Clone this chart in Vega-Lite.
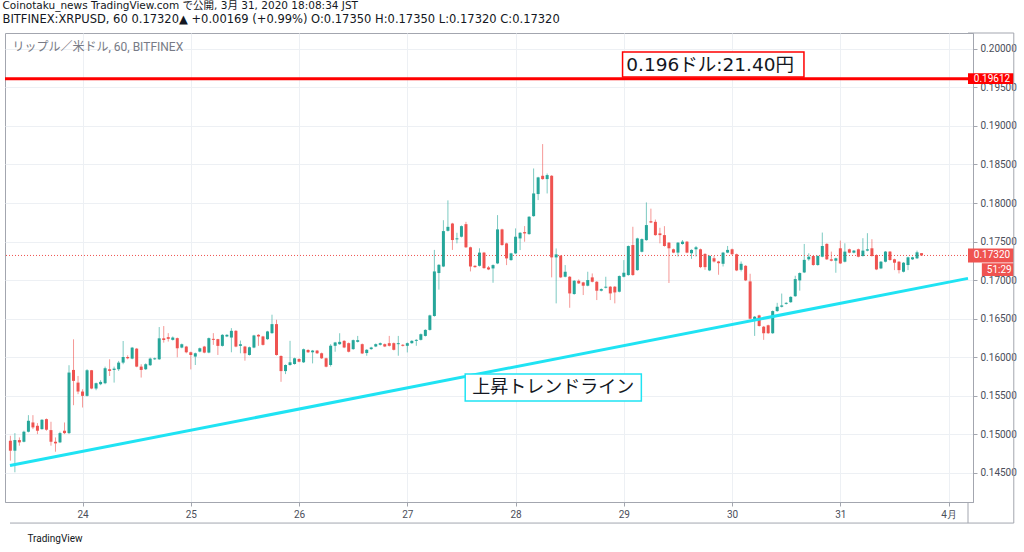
{
  "$schema": "https://vega.github.io/schema/vega-lite/v6.json",
  "width": 968,
  "height": 469,
  "autosize": {"type": "none"},
  "padding": {"left": 5, "top": 33, "right": 51, "bottom": 50},
  "background": "white",
  "title": {
    "text": "Coinotaku_news TradingView.com で公開, 3月 31, 2020 18:08:34 JST",
    "subtitle": "BITFINEX:XRPUSD, 60 0.17320▲ +0.00169 (+0.99%) O:0.17350 H:0.17350 L:0.17320 C:0.17320",
    "anchor": "start",
    "frame": "bounds",
    "offset": 7.5,
    "font": "DejaVu Sans, Noto Sans CJK JP",
    "fontSize": 10.5,
    "fontWeight": "normal",
    "color": "#131722",
    "subtitleFont": "DejaVu Sans, Noto Sans CJK JP",
    "subtitleFontSize": 11.5,
    "subtitleColor": "#131722",
    "subtitlePadding": 2,
    "dx": -1
  },
  "datasets": {
    "candles": [
      {"t":"2020-03-23T08:00Z","o":0.14918,"h":0.14983,"l":0.14660,"c":0.14789},
      {"t":"2020-03-23T09:00Z","o":0.14789,"h":0.15017,"l":0.14509,"c":0.14927},
      {"t":"2020-03-23T10:00Z","o":0.14927,"h":0.14961,"l":0.14854,"c":0.14897},
      {"t":"2020-03-23T11:00Z","o":0.14905,"h":0.15048,"l":0.14897,"c":0.15035},
      {"t":"2020-03-23T12:00Z","o":0.15035,"h":0.15250,"l":0.15026,"c":0.15177},
      {"t":"2020-03-23T13:00Z","o":0.15155,"h":0.15250,"l":0.15069,"c":0.15091},
      {"t":"2020-03-23T14:00Z","o":0.15112,"h":0.15147,"l":0.15004,"c":0.15048},
      {"t":"2020-03-23T15:00Z","o":0.15069,"h":0.15198,"l":0.15061,"c":0.15190},
      {"t":"2020-03-23T16:00Z","o":0.15198,"h":0.15207,"l":0.15048,"c":0.15061},
      {"t":"2020-03-23T17:00Z","o":0.15056,"h":0.15164,"l":0.14854,"c":0.14905},
      {"t":"2020-03-23T18:00Z","o":0.14905,"h":0.14961,"l":0.14776,"c":0.14884},
      {"t":"2020-03-23T19:00Z","o":0.14897,"h":0.15035,"l":0.14888,"c":0.15017},
      {"t":"2020-03-23T20:00Z","o":0.15048,"h":0.15155,"l":0.15004,"c":0.15017},
      {"t":"2020-03-23T21:00Z","o":0.15017,"h":0.15897,"l":0.15004,"c":0.15802},
      {"t":"2020-03-23T22:00Z","o":0.15836,"h":0.16233,"l":0.15379,"c":0.15694},
      {"t":"2020-03-23T23:00Z","o":0.15672,"h":0.15758,"l":0.15522,"c":0.15556},
      {"t":"2020-03-24T00:00Z","o":0.15556,"h":0.15586,"l":0.15349,"c":0.15500},
      {"t":"2020-03-24T01:00Z","o":0.15500,"h":0.15845,"l":0.15491,"c":0.15832},
      {"t":"2020-03-24T02:00Z","o":0.15832,"h":0.15836,"l":0.15586,"c":0.15595},
      {"t":"2020-03-24T03:00Z","o":0.15595,"h":0.15672,"l":0.15573,"c":0.15664},
      {"t":"2020-03-24T04:00Z","o":0.15651,"h":0.15703,"l":0.15638,"c":0.15681},
      {"t":"2020-03-24T05:00Z","o":0.15664,"h":0.15879,"l":0.15651,"c":0.15858},
      {"t":"2020-03-24T06:00Z","o":0.15845,"h":0.15974,"l":0.15758,"c":0.15823},
      {"t":"2020-03-24T07:00Z","o":0.15836,"h":0.15879,"l":0.15672,"c":0.15853},
      {"t":"2020-03-24T08:00Z","o":0.15845,"h":0.15953,"l":0.15823,"c":0.15931},
      {"t":"2020-03-24T09:00Z","o":0.15931,"h":0.16211,"l":0.15910,"c":0.16004},
      {"t":"2020-03-24T10:00Z","o":0.16004,"h":0.16026,"l":0.15974,"c":0.15987},
      {"t":"2020-03-24T11:00Z","o":0.15983,"h":0.16134,"l":0.15974,"c":0.16125},
      {"t":"2020-03-24T12:00Z","o":0.16112,"h":0.16121,"l":0.15871,"c":0.15879},
      {"t":"2020-03-24T13:00Z","o":0.15879,"h":0.15910,"l":0.15737,"c":0.15836},
      {"t":"2020-03-24T14:00Z","o":0.15845,"h":0.15922,"l":0.15836,"c":0.15910},
      {"t":"2020-03-24T15:00Z","o":0.15897,"h":0.15996,"l":0.15888,"c":0.15983},
      {"t":"2020-03-24T16:00Z","o":0.15974,"h":0.15996,"l":0.15966,"c":0.15987},
      {"t":"2020-03-24T17:00Z","o":0.15974,"h":0.16392,"l":0.15966,"c":0.16246},
      {"t":"2020-03-24T18:00Z","o":0.16246,"h":0.16405,"l":0.16190,"c":0.16224},
      {"t":"2020-03-24T19:00Z","o":0.16261,"h":0.16313,"l":0.16204,"c":0.16239},
      {"t":"2020-03-24T20:00Z","o":0.16226,"h":0.16270,"l":0.16217,"c":0.16256},
      {"t":"2020-03-24T21:00Z","o":0.16248,"h":0.16256,"l":0.16000,"c":0.16117},
      {"t":"2020-03-24T22:00Z","o":0.16126,"h":0.16178,"l":0.16117,"c":0.16169},
      {"t":"2020-03-24T23:00Z","o":0.16139,"h":0.16148,"l":0.16052,"c":0.16065},
      {"t":"2020-03-25T00:00Z","o":0.16065,"h":0.16074,"l":0.15843,"c":0.16030},
      {"t":"2020-03-25T01:00Z","o":0.16009,"h":0.16061,"l":0.15900,"c":0.16052},
      {"t":"2020-03-25T02:00Z","o":0.16074,"h":0.16126,"l":0.16065,"c":0.16117},
      {"t":"2020-03-25T03:00Z","o":0.16139,"h":0.16148,"l":0.16052,"c":0.16061},
      {"t":"2020-03-25T04:00Z","o":0.16061,"h":0.16256,"l":0.16052,"c":0.16248},
      {"t":"2020-03-25T05:00Z","o":0.16239,"h":0.16313,"l":0.16161,"c":0.16226},
      {"t":"2020-03-25T06:00Z","o":0.16235,"h":0.16239,"l":0.16030,"c":0.16148},
      {"t":"2020-03-25T07:00Z","o":0.16148,"h":0.16300,"l":0.16139,"c":0.16291},
      {"t":"2020-03-25T08:00Z","o":0.16270,"h":0.16300,"l":0.16261,"c":0.16291},
      {"t":"2020-03-25T09:00Z","o":0.16256,"h":0.16378,"l":0.16065,"c":0.16343},
      {"t":"2020-03-25T10:00Z","o":0.16343,"h":0.16352,"l":0.16130,"c":0.16139},
      {"t":"2020-03-25T11:00Z","o":0.16148,"h":0.16217,"l":0.16052,"c":0.16169},
      {"t":"2020-03-25T12:00Z","o":0.16139,"h":0.16148,"l":0.15956,"c":0.16052},
      {"t":"2020-03-25T13:00Z","o":0.16030,"h":0.16139,"l":0.16022,"c":0.16130},
      {"t":"2020-03-25T14:00Z","o":0.16126,"h":0.16291,"l":0.16117,"c":0.16283},
      {"t":"2020-03-25T15:00Z","o":0.16291,"h":0.16300,"l":0.16148,"c":0.16270},
      {"t":"2020-03-25T16:00Z","o":0.16270,"h":0.16278,"l":0.16152,"c":0.16161},
      {"t":"2020-03-25T17:00Z","o":0.16235,"h":0.16343,"l":0.16226,"c":0.16335},
      {"t":"2020-03-25T18:00Z","o":0.16313,"h":0.16552,"l":0.16304,"c":0.16430},
      {"t":"2020-03-25T19:00Z","o":0.16430,"h":0.16487,"l":0.16022,"c":0.16030},
      {"t":"2020-03-25T20:00Z","o":0.16017,"h":0.16026,"l":0.15682,"c":0.15821},
      {"t":"2020-03-25T21:00Z","o":0.15821,"h":0.15908,"l":0.15782,"c":0.15900},
      {"t":"2020-03-25T22:00Z","o":0.15900,"h":0.16213,"l":0.15891,"c":0.15935},
      {"t":"2020-03-25T23:00Z","o":0.15913,"h":0.15995,"l":0.15904,"c":0.15987},
      {"t":"2020-03-26T00:00Z","o":0.15978,"h":0.15987,"l":0.15935,"c":0.15943},
      {"t":"2020-03-26T01:00Z","o":0.15935,"h":0.16113,"l":0.15926,"c":0.16104},
      {"t":"2020-03-26T02:00Z","o":0.16095,"h":0.16104,"l":0.16056,"c":0.16065},
      {"t":"2020-03-26T03:00Z","o":0.16065,"h":0.16095,"l":0.15921,"c":0.16087},
      {"t":"2020-03-26T04:00Z","o":0.16087,"h":0.16095,"l":0.16043,"c":0.16052},
      {"t":"2020-03-26T05:00Z","o":0.16052,"h":0.16061,"l":0.15978,"c":0.15987},
      {"t":"2020-03-26T06:00Z","o":0.15987,"h":0.15995,"l":0.15870,"c":0.15878},
      {"t":"2020-03-26T07:00Z","o":0.15900,"h":0.16170,"l":0.15880,"c":0.16150},
      {"t":"2020-03-26T08:00Z","o":0.16149,"h":0.16200,"l":0.16072,"c":0.16192},
      {"t":"2020-03-26T09:00Z","o":0.16170,"h":0.16312,"l":0.16162,"c":0.16200},
      {"t":"2020-03-26T10:00Z","o":0.16213,"h":0.16222,"l":0.16118,"c":0.16127},
      {"t":"2020-03-26T11:00Z","o":0.16183,"h":0.16192,"l":0.16063,"c":0.16072},
      {"t":"2020-03-26T12:00Z","o":0.16106,"h":0.16230,"l":0.16097,"c":0.16222},
      {"t":"2020-03-26T13:00Z","o":0.16200,"h":0.16277,"l":0.16192,"c":0.16222},
      {"t":"2020-03-26T14:00Z","o":0.16170,"h":0.16179,"l":0.16042,"c":0.16050},
      {"t":"2020-03-26T15:00Z","o":0.16055,"h":0.16106,"l":0.16020,"c":0.16097},
      {"t":"2020-03-26T16:00Z","o":0.16106,"h":0.16136,"l":0.16097,"c":0.16127},
      {"t":"2020-03-26T17:00Z","o":0.16140,"h":0.16179,"l":0.16132,"c":0.16170},
      {"t":"2020-03-26T18:00Z","o":0.16162,"h":0.16192,"l":0.16153,"c":0.16183},
      {"t":"2020-03-26T19:00Z","o":0.16170,"h":0.16179,"l":0.16132,"c":0.16140},
      {"t":"2020-03-26T20:00Z","o":0.16183,"h":0.16277,"l":0.16140,"c":0.16149},
      {"t":"2020-03-26T21:00Z","o":0.16183,"h":0.16192,"l":0.16089,"c":0.16097},
      {"t":"2020-03-26T22:00Z","o":0.16170,"h":0.16277,"l":0.16020,"c":0.16183},
      {"t":"2020-03-26T23:00Z","o":0.16162,"h":0.16170,"l":0.16140,"c":0.16149},
      {"t":"2020-03-27T00:00Z","o":0.16149,"h":0.16192,"l":0.16063,"c":0.16183},
      {"t":"2020-03-27T01:00Z","o":0.16183,"h":0.16222,"l":0.16175,"c":0.16213},
      {"t":"2020-03-27T02:00Z","o":0.16213,"h":0.16235,"l":0.16149,"c":0.16226},
      {"t":"2020-03-27T03:00Z","o":0.16226,"h":0.16308,"l":0.16218,"c":0.16299},
      {"t":"2020-03-27T04:00Z","o":0.16277,"h":0.16363,"l":0.16269,"c":0.16355},
      {"t":"2020-03-27T05:00Z","o":0.16355,"h":0.16552,"l":0.16346,"c":0.16543},
      {"t":"2020-03-27T06:00Z","o":0.16535,"h":0.17392,"l":0.16526,"c":0.17113},
      {"t":"2020-03-27T07:00Z","o":0.17092,"h":0.17207,"l":0.16877,"c":0.17199},
      {"t":"2020-03-27T08:00Z","o":0.17177,"h":0.17777,"l":0.17169,"c":0.17636},
      {"t":"2020-03-27T09:00Z","o":0.17640,"h":0.18034,"l":0.17631,"c":0.17691},
      {"t":"2020-03-27T10:00Z","o":0.17734,"h":0.17743,"l":0.17392,"c":0.17520},
      {"t":"2020-03-27T11:00Z","o":0.17529,"h":0.17614,"l":0.17477,"c":0.17542},
      {"t":"2020-03-27T12:00Z","o":0.17563,"h":0.17709,"l":0.17554,"c":0.17700},
      {"t":"2020-03-27T13:00Z","o":0.17726,"h":0.17756,"l":0.17417,"c":0.17426},
      {"t":"2020-03-27T14:00Z","o":0.17426,"h":0.17434,"l":0.17113,"c":0.17177},
      {"t":"2020-03-27T15:00Z","o":0.17186,"h":0.17194,"l":0.17160,"c":0.17169},
      {"t":"2020-03-27T16:00Z","o":0.17186,"h":0.17413,"l":0.17177,"c":0.17357},
      {"t":"2020-03-27T17:00Z","o":0.17357,"h":0.17366,"l":0.17147,"c":0.17156},
      {"t":"2020-03-27T18:00Z","o":0.17165,"h":0.17183,"l":0.17130,"c":0.17139},
      {"t":"2020-03-27T19:00Z","o":0.17152,"h":0.17204,"l":0.16966,"c":0.17195},
      {"t":"2020-03-27T20:00Z","o":0.17217,"h":0.17843,"l":0.17208,"c":0.17658},
      {"t":"2020-03-27T21:00Z","o":0.17658,"h":0.17667,"l":0.17446,"c":0.17455},
      {"t":"2020-03-27T22:00Z","o":0.17476,"h":0.17485,"l":0.17195,"c":0.17282},
      {"t":"2020-03-27T23:00Z","o":0.17260,"h":0.17355,"l":0.17252,"c":0.17347},
      {"t":"2020-03-28T00:00Z","o":0.17347,"h":0.17671,"l":0.17338,"c":0.17563},
      {"t":"2020-03-28T01:00Z","o":0.17541,"h":0.17623,"l":0.17390,"c":0.17614},
      {"t":"2020-03-28T02:00Z","o":0.17623,"h":0.17701,"l":0.17498,"c":0.17606},
      {"t":"2020-03-28T03:00Z","o":0.17597,"h":0.17830,"l":0.17588,"c":0.17822},
      {"t":"2020-03-28T04:00Z","o":0.17830,"h":0.18448,"l":0.17822,"c":0.18124},
      {"t":"2020-03-28T05:00Z","o":0.18116,"h":0.18340,"l":0.18038,"c":0.18332},
      {"t":"2020-03-28T06:00Z","o":0.18353,"h":0.18764,"l":0.18302,"c":0.18310},
      {"t":"2020-03-28T07:00Z","o":0.18310,"h":0.18383,"l":0.18124,"c":0.18362},
      {"t":"2020-03-28T08:00Z","o":0.18353,"h":0.18362,"l":0.17036,"c":0.17295},
      {"t":"2020-03-28T09:00Z","o":0.17295,"h":0.17411,"l":0.16699,"c":0.17334},
      {"t":"2020-03-28T10:00Z","o":0.17316,"h":0.17325,"l":0.17027,"c":0.17036},
      {"t":"2020-03-28T11:00Z","o":0.17044,"h":0.17195,"l":0.17036,"c":0.17109},
      {"t":"2020-03-28T12:00Z","o":0.17044,"h":0.17053,"l":0.16642,"c":0.16828},
      {"t":"2020-03-28T13:00Z","o":0.16820,"h":0.17001,"l":0.16811,"c":0.16992},
      {"t":"2020-03-28T14:00Z","o":0.16992,"h":0.17010,"l":0.16950,"c":0.16958},
      {"t":"2020-03-28T15:00Z","o":0.16971,"h":0.16979,"l":0.16807,"c":0.16928},
      {"t":"2020-03-28T16:00Z","o":0.16928,"h":0.17109,"l":0.16920,"c":0.17001},
      {"t":"2020-03-28T17:00Z","o":0.17036,"h":0.17087,"l":0.16971,"c":0.16979},
      {"t":"2020-03-28T18:00Z","o":0.16979,"h":0.16988,"l":0.16742,"c":0.16863},
      {"t":"2020-03-28T19:00Z","o":0.16863,"h":0.16893,"l":0.16854,"c":0.16884},
      {"t":"2020-03-28T20:00Z","o":0.16902,"h":0.17044,"l":0.16893,"c":0.16915},
      {"t":"2020-03-28T21:00Z","o":0.16915,"h":0.16924,"l":0.16742,"c":0.16828},
      {"t":"2020-03-28T22:00Z","o":0.16915,"h":0.16924,"l":0.16699,"c":0.16841},
      {"t":"2020-03-28T23:00Z","o":0.16850,"h":0.17061,"l":0.16841,"c":0.17053},
      {"t":"2020-03-29T00:00Z","o":0.17044,"h":0.17260,"l":0.17036,"c":0.17096},
      {"t":"2020-03-29T01:00Z","o":0.17066,"h":0.17450,"l":0.17057,"c":0.17442},
      {"t":"2020-03-29T02:00Z","o":0.17455,"h":0.17692,"l":0.17057,"c":0.17066},
      {"t":"2020-03-29T03:00Z","o":0.17130,"h":0.17550,"l":0.17122,"c":0.17541},
      {"t":"2020-03-29T04:00Z","o":0.17368,"h":0.17541,"l":0.17360,"c":0.17532},
      {"t":"2020-03-29T05:00Z","o":0.17519,"h":0.18008,"l":0.17510,"c":0.17714},
      {"t":"2020-03-29T06:00Z","o":0.17764,"h":0.17927,"l":0.17739,"c":0.17747},
      {"t":"2020-03-29T07:00Z","o":0.17756,"h":0.17786,"l":0.17576,"c":0.17584},
      {"t":"2020-03-29T08:00Z","o":0.17606,"h":0.17679,"l":0.17477,"c":0.17584},
      {"t":"2020-03-29T09:00Z","o":0.17584,"h":0.17700,"l":0.17434,"c":0.17443},
      {"t":"2020-03-29T10:00Z","o":0.17486,"h":0.17494,"l":0.16963,"c":0.17413},
      {"t":"2020-03-29T11:00Z","o":0.17400,"h":0.17409,"l":0.17349,"c":0.17357},
      {"t":"2020-03-29T12:00Z","o":0.17357,"h":0.17494,"l":0.17306,"c":0.17486},
      {"t":"2020-03-29T13:00Z","o":0.17469,"h":0.17520,"l":0.17460,"c":0.17499},
      {"t":"2020-03-29T14:00Z","o":0.17499,"h":0.17507,"l":0.17349,"c":0.17357},
      {"t":"2020-03-29T15:00Z","o":0.17349,"h":0.17400,"l":0.17276,"c":0.17392},
      {"t":"2020-03-29T16:00Z","o":0.17400,"h":0.17443,"l":0.17306,"c":0.17426},
      {"t":"2020-03-29T17:00Z","o":0.17400,"h":0.17409,"l":0.17156,"c":0.17169},
      {"t":"2020-03-29T18:00Z","o":0.17340,"h":0.17349,"l":0.17134,"c":0.17169},
      {"t":"2020-03-29T19:00Z","o":0.17126,"h":0.17323,"l":0.17117,"c":0.17314},
      {"t":"2020-03-29T20:00Z","o":0.17284,"h":0.17314,"l":0.17229,"c":0.17242},
      {"t":"2020-03-29T21:00Z","o":0.17242,"h":0.17250,"l":0.17070,"c":0.17220},
      {"t":"2020-03-29T22:00Z","o":0.17212,"h":0.17366,"l":0.17177,"c":0.17357},
      {"t":"2020-03-29T23:00Z","o":0.17357,"h":0.17443,"l":0.17349,"c":0.17392},
      {"t":"2020-03-30T00:00Z","o":0.17400,"h":0.17409,"l":0.17327,"c":0.17336},
      {"t":"2020-03-30T01:00Z","o":0.17336,"h":0.17344,"l":0.17117,"c":0.17126},
      {"t":"2020-03-30T02:00Z","o":0.17134,"h":0.17242,"l":0.17113,"c":0.17212},
      {"t":"2020-03-30T03:00Z","o":0.17186,"h":0.17194,"l":0.16988,"c":0.16997},
      {"t":"2020-03-30T04:00Z","o":0.16984,"h":0.17083,"l":0.16492,"c":0.16500},
      {"t":"2020-03-30T05:00Z","o":0.16492,"h":0.16535,"l":0.16277,"c":0.16526},
      {"t":"2020-03-30T06:00Z","o":0.16543,"h":0.16552,"l":0.16397,"c":0.16406},
      {"t":"2020-03-30T07:00Z","o":0.16397,"h":0.16406,"l":0.16226,"c":0.16312},
      {"t":"2020-03-30T08:00Z","o":0.16415,"h":0.16423,"l":0.16303,"c":0.16312},
      {"t":"2020-03-30T09:00Z","o":0.16312,"h":0.16607,"l":0.16303,"c":0.16599},
      {"t":"2020-03-30T10:00Z","o":0.16599,"h":0.16706,"l":0.16590,"c":0.16655},
      {"t":"2020-03-30T11:00Z","o":0.16655,"h":0.16826,"l":0.16646,"c":0.16672},
      {"t":"2020-03-30T12:00Z","o":0.16693,"h":0.16714,"l":0.16684,"c":0.16706},
      {"t":"2020-03-30T13:00Z","o":0.16714,"h":0.16792,"l":0.16706,"c":0.16783},
      {"t":"2020-03-30T14:00Z","o":0.16792,"h":0.17057,"l":0.16783,"c":0.17014},
      {"t":"2020-03-30T15:00Z","o":0.16997,"h":0.17100,"l":0.16864,"c":0.17092},
      {"t":"2020-03-30T16:00Z","o":0.17100,"h":0.17469,"l":0.17092,"c":0.17263},
      {"t":"2020-03-30T17:00Z","o":0.17270,"h":0.17348,"l":0.17252,"c":0.17304},
      {"t":"2020-03-30T18:00Z","o":0.17313,"h":0.17322,"l":0.17187,"c":0.17196},
      {"t":"2020-03-30T19:00Z","o":0.17196,"h":0.17322,"l":0.17187,"c":0.17313},
      {"t":"2020-03-30T20:00Z","o":0.17304,"h":0.17617,"l":0.17296,"c":0.17443},
      {"t":"2020-03-30T21:00Z","o":0.17470,"h":0.17478,"l":0.17261,"c":0.17270},
      {"t":"2020-03-30T22:00Z","o":0.17270,"h":0.17370,"l":0.17244,"c":0.17252},
      {"t":"2020-03-30T23:00Z","o":0.17252,"h":0.17291,"l":0.17096,"c":0.17283},
      {"t":"2020-03-31T00:00Z","o":0.17413,"h":0.17513,"l":0.17209,"c":0.17217},
      {"t":"2020-03-31T01:00Z","o":0.17239,"h":0.17478,"l":0.17230,"c":0.17370},
      {"t":"2020-03-31T02:00Z","o":0.17400,"h":0.17409,"l":0.17348,"c":0.17356},
      {"t":"2020-03-31T03:00Z","o":0.17356,"h":0.17391,"l":0.17348,"c":0.17383},
      {"t":"2020-03-31T04:00Z","o":0.17400,"h":0.17409,"l":0.17296,"c":0.17304},
      {"t":"2020-03-31T05:00Z","o":0.17313,"h":0.17544,"l":0.17304,"c":0.17383},
      {"t":"2020-03-31T06:00Z","o":0.17383,"h":0.17609,"l":0.17374,"c":0.17400},
      {"t":"2020-03-31T07:00Z","o":0.17413,"h":0.17531,"l":0.17304,"c":0.17313},
      {"t":"2020-03-31T08:00Z","o":0.17326,"h":0.17335,"l":0.17130,"c":0.17139},
      {"t":"2020-03-31T09:00Z","o":0.17152,"h":0.17248,"l":0.17143,"c":0.17239},
      {"t":"2020-03-31T10:00Z","o":0.17239,"h":0.17378,"l":0.17230,"c":0.17370},
      {"t":"2020-03-31T11:00Z","o":0.17370,"h":0.17378,"l":0.17252,"c":0.17261},
      {"t":"2020-03-31T12:00Z","o":0.17270,"h":0.17278,"l":0.17130,"c":0.17226},
      {"t":"2020-03-31T13:00Z","o":0.17239,"h":0.17248,"l":0.17087,"c":0.17130},
      {"t":"2020-03-31T14:00Z","o":0.17109,"h":0.17235,"l":0.17100,"c":0.17226},
      {"t":"2020-03-31T15:00Z","o":0.17196,"h":0.17304,"l":0.17130,"c":0.17296},
      {"t":"2020-03-31T16:00Z","o":0.17270,"h":0.17304,"l":0.17261,"c":0.17296},
      {"t":"2020-03-31T17:00Z","o":0.17283,"h":0.17383,"l":0.17274,"c":0.17361},
      {"t":"2020-03-31T18:00Z","o":0.17350,"h":0.17350,"l":0.17320,"c":0.17320}
    ]
  },
  "layer": [
    {
      "data": {"name": "candles"},
      "mark": {"type": "rule", "strokeWidth": 1, "opacity": 0.6},
      "encoding": {
        "x": {
          "field": "t", "type": "temporal",
          "scale": {"type": "utc", "domain": [
            {"year": 2020, "month": 3, "date": 23, "hours": 7, "minutes": 55, "utc": true},
            {"year": 2020, "month": 4, "date": 1, "hours": 4, "minutes": 18, "utc": true}
          ]},
          "axis": {
            "values": [
              {"year": 2020, "month": 3, "date": 24, "utc": true},
              {"year": 2020, "month": 3, "date": 25, "utc": true},
              {"year": 2020, "month": 3, "date": 26, "utc": true},
              {"year": 2020, "month": 3, "date": 27, "utc": true},
              {"year": 2020, "month": 3, "date": 28, "utc": true},
              {"year": 2020, "month": 3, "date": 29, "utc": true},
              {"year": 2020, "month": 3, "date": 30, "utc": true},
              {"year": 2020, "month": 3, "date": 31, "utc": true},
              {"year": 2020, "month": 4, "date": 1, "utc": true}
            ],
            "labelExpr": "utcdate(datum.value) == 1 ? '4月' : '' + utcdate(datum.value)",
            "grid": true,
            "tickSize": 4,
            "labelPadding": 3,
            "labelFlush": false,
            "title": "TradingView",
            "titleX": 22,
            "titleY": 36,
            "titleAlign": "left",
            "titleBaseline": "middle",
            "titleFontSize": 10,
            "titleFontWeight": "normal"
          }
        },
        "y": {
          "field": "l", "type": "quantitative",
          "scale": {"domain": [0.14124, 0.20204], "nice": false, "zero": false},
          "axis": {
            "orient": "right",
            "values": [0.145, 0.15, 0.155, 0.16, 0.165, 0.17, 0.175, 0.18, 0.185, 0.19, 0.195, 0.2],
            "format": ".5f",
            "grid": true,
            "tickSize": 4,
            "labelPadding": 3,
            "title": null
          }
        },
        "y2": {"field": "h"},
        "color": {"condition": {"test": "datum.c >= datum.o", "value": "#26a69a"}, "value": "#ef5350"}
      }
    },
    {
      "data": {"values": [{"p": 0.1732}]},
      "mark": {"type": "rule", "color": "#ef5350", "strokeWidth": 1, "strokeDash": [1, 2]},
      "encoding": {"y": {"field": "p", "type": "quantitative"}}
    },
    {
      "data": {"name": "candles"},
      "mark": {"type": "bar", "size": 3},
      "encoding": {
        "x": {"field": "t", "type": "temporal"},
        "y": {"field": "o", "type": "quantitative"},
        "y2": {"field": "c"},
        "color": {"condition": {"test": "datum.c >= datum.o", "value": "#26a69a"}, "value": "#ef5350"}
      }
    },
    {
      "data": {"values": [
        {"t": "2020-03-23T07:55Z", "p": 0.14597},
        {"t": "2020-04-01T04:18Z", "p": 0.17023}
      ]},
      "mark": {"type": "line", "color": "#1fe3f3", "strokeWidth": 3},
      "encoding": {
        "x": {"field": "t", "type": "temporal"},
        "y": {"field": "p", "type": "quantitative"}
      }
    },
    {
      "data": {"values": [{"p": 0.19612}]},
      "mark": {"type": "rule", "color": "#ff0000", "strokeWidth": 3},
      "encoding": {"y": {"field": "p", "type": "quantitative"}}
    },
    {
      "data": {"values": [{"t": "2020-03-28T23:43Z", "t2": "2020-03-30T15:56Z", "p": 0.19633, "p2": 0.19957}]},
      "mark": {"type": "rect", "fill": "white", "stroke": "#ff0000", "strokeWidth": 1.5},
      "encoding": {
        "x": {"field": "t", "type": "temporal"},
        "x2": {"field": "t2"},
        "y": {"field": "p", "type": "quantitative"},
        "y2": {"field": "p2"}
      }
    },
    {
      "data": {"values": [{"t": "2020-03-29T19:08Z", "p": 0.19792, "label": "0.196ドル:21.40円"}]},
      "mark": {"type": "text", "fontSize": 18.5, "font": "DejaVu Sans, Noto Sans CJK JP", "color": "#131722", "align": "center", "baseline": "middle"},
      "encoding": {
        "x": {"field": "t", "type": "temporal"},
        "y": {"field": "p", "type": "quantitative"},
        "text": {"field": "label"}
      }
    },
    {
      "data": {"values": [{"t": "2020-03-27T12:50Z", "t2": "2020-03-29T03:53Z", "p": 0.15434, "p2": 0.15784}]},
      "mark": {"type": "rect", "fill": "white", "stroke": "#1fe3f3", "strokeWidth": 1.5},
      "encoding": {
        "x": {"field": "t", "type": "temporal"},
        "x2": {"field": "t2"},
        "y": {"field": "p", "type": "quantitative"},
        "y2": {"field": "p2"}
      }
    },
    {
      "data": {"values": [{"t": "2020-03-28T08:22Z", "p": 0.15603, "label": "上昇トレンドライン"}]},
      "mark": {"type": "text", "fontSize": 18, "font": "Noto Sans CJK JP", "color": "#131722", "align": "center", "baseline": "middle"},
      "encoding": {
        "x": {"field": "t", "type": "temporal"},
        "y": {"field": "p", "type": "quantitative"},
        "text": {"field": "label"}
      }
    },
    {
      "data": {"values": [{"t": "2020-03-23T08:28Z", "p": 0.20026, "label": "リップル／米ドル, 60, BITFINEX"}]},
      "mark": {"type": "text", "fontSize": 12, "font": "Roboto, Noto Sans CJK JP", "color": "#787b86", "align": "left", "baseline": "middle"},
      "encoding": {
        "x": {"field": "t", "type": "temporal"},
        "y": {"field": "p", "type": "quantitative"},
        "text": {"field": "label"}
      }
    },
    {
      "data": {"values": [{"t": "2020-04-01T04:18Z", "t2": "2020-04-01T14:27Z", "p": 0.19543, "p2": 0.19681}]},
      "mark": {"type": "rect", "fill": "#ff0000"},
      "encoding": {
        "x": {"field": "t", "type": "temporal"},
        "x2": {"field": "t2"},
        "y": {"field": "p", "type": "quantitative"},
        "y2": {"field": "p2"}
      }
    },
    {
      "data": {"values": [
        {"t": "2020-04-01T04:18Z", "t2": "2020-04-01T14:27Z", "p": 0.17229, "p2": 0.17411},
        {"t": "2020-04-01T07:22Z", "t2": "2020-04-01T14:27Z", "p": 0.17055, "p2": 0.17218}
      ]},
      "mark": {"type": "rect", "fill": "#ef5350"},
      "encoding": {
        "x": {"field": "t", "type": "temporal"},
        "x2": {"field": "t2"},
        "y": {"field": "p", "type": "quantitative"},
        "y2": {"field": "p2"}
      }
    },
    {
      "data": {"values": [
        {"t": "2020-04-01T05:36Z", "p": 0.19612, "label": "0.19612"},
        {"t": "2020-04-01T05:36Z", "p": 0.1732, "label": "0.17320"},
        {"t": "2020-04-01T08:28Z", "p": 0.17137, "label": "51:29"}
      ]},
      "mark": {"type": "text", "fontSize": 10, "font": "Roboto", "color": "white", "align": "left", "baseline": "middle"},
      "encoding": {
        "x": {"field": "t", "type": "temporal"},
        "y": {"field": "p", "type": "quantitative"},
        "text": {"field": "label"}
      }
    },
    {
      "data": {"values": [
        {"t": "2020-03-23T07:55Z", "t2": "2020-04-01T14:27Z", "p": 0.13851},
        {"t": "2020-04-01T04:18Z", "t2": "2020-04-01T14:27Z", "p": 0.20204}
      ]},
      "mark": {"type": "rule", "color": "#a3a6af", "strokeWidth": 1},
      "encoding": {
        "x": {"field": "t", "type": "temporal"},
        "x2": {"field": "t2"},
        "y": {"field": "p", "type": "quantitative"}
      }
    },
    {
      "data": {"values": [
        {"t": "2020-04-01T14:27Z", "p": 0.20204, "p2": 0.13851},
        {"t": "2020-04-01T04:18Z", "p": 0.14124, "p2": 0.13851}
      ]},
      "mark": {"type": "rule", "color": "#a3a6af", "strokeWidth": 1},
      "encoding": {
        "x": {"field": "t", "type": "temporal"},
        "y": {"field": "p", "type": "quantitative"},
        "y2": {"field": "p2"}
      }
    }
  ],
  "config": {
    "view": {"stroke": "#a3a6af"},
    "axis": {
      "gridColor": "#edf0f4",
      "domainColor": "#a3a6af",
      "tickColor": "#a3a6af",
      "labelColor": "#4a4e5a",
      "labelFontSize": 10,
      "labelFont": "Roboto",
      "titleFont": "Roboto",
      "titleColor": "#131722"
    }
  }
}
